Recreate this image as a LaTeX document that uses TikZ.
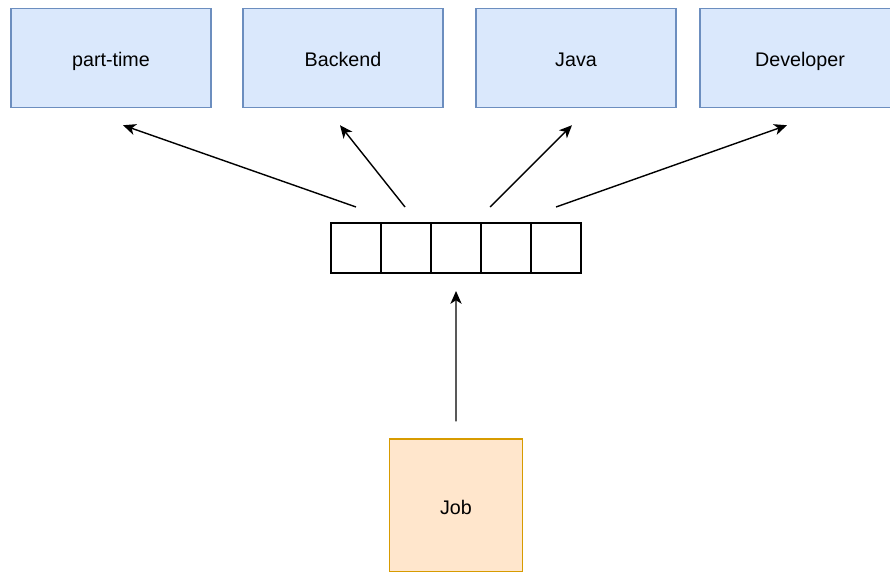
\documentclass[tikz,border=0pt]{standalone}
\usepackage{fontspec}
\setmainfont{Liberation Sans}
\usetikzlibrary{arrows.meta,positioning}

\definecolor{tagfill}{HTML}{DAE8FC}
\definecolor{tagline}{HTML}{6C8EBF}
\definecolor{jobfill}{HTML}{FFE6CC}
\definecolor{jobline}{HTML}{D79B00}

\begin{document}
\begin{tikzpicture}[
  x=0.025cm, y=-0.025cm,
  font=\fontsize{14}{16}\selectfont,
  tag/.style={draw=tagline,fill=tagfill,line width=1pt,minimum width=5cm,minimum height=2.475cm,align=center,text height=2.6ex,text depth=0.3ex},
  cell/.style={draw,line width=1pt,minimum width=1.25cm,minimum height=1.25cm,inner sep=0pt,outer sep=0pt},
  job/.style={draw=jobline,fill=jobfill,line width=1pt,minimum width=3.325cm,minimum height=3.325cm,text height=2.6ex,text depth=0.3ex},
  arr/.style={-{Stealth[length=3.2mm,width=2.8mm,inset=0.9mm]},line width=1pt}
]
\useasboundingbox (0,0) rectangle (890,572);

% tags on top
\node[tag] (parttime) at (111,58) {part-time};
\node[tag] (backend) at (343,58) {Backend};
\node[tag] (java) at (576,58) {Java};
\node[tag] (developer) at (800,58) {Developer};

% queue of five slots
\node[cell] (cell1) at (356,248) {};
\node[cell,right=0pt of cell1] (cell2) {};
\node[cell,right=0pt of cell2] (cell3) {};
\node[cell,right=0pt of cell3] (cell4) {};
\node[cell,right=0pt of cell4] (cell5) {};

% the job
\node[job] (job) at (456,505.5) {Job};

\draw[arr] ([yshift=0.425cm]job.north) -- ([yshift=-0.45cm]cell3.south);
\draw[arr] ([yshift=0.4cm]cell1.north) -- ([xshift=0.3cm,yshift=-0.425cm]parttime.south);
\draw[arr] ([xshift=-0.025cm,yshift=0.4cm]cell2.north) -- ([xshift=-0.075cm,yshift=-0.425cm]backend.south);
\draw[arr] ([xshift=-0.4cm,yshift=0.4cm]cell4.north) -- ([xshift=-0.1cm,yshift=-0.425cm]java.south);
\draw[arr] ([yshift=0.4cm]cell5.north) -- ([xshift=-0.325cm,yshift=-0.425cm]developer.south);
\end{tikzpicture}
\end{document}
